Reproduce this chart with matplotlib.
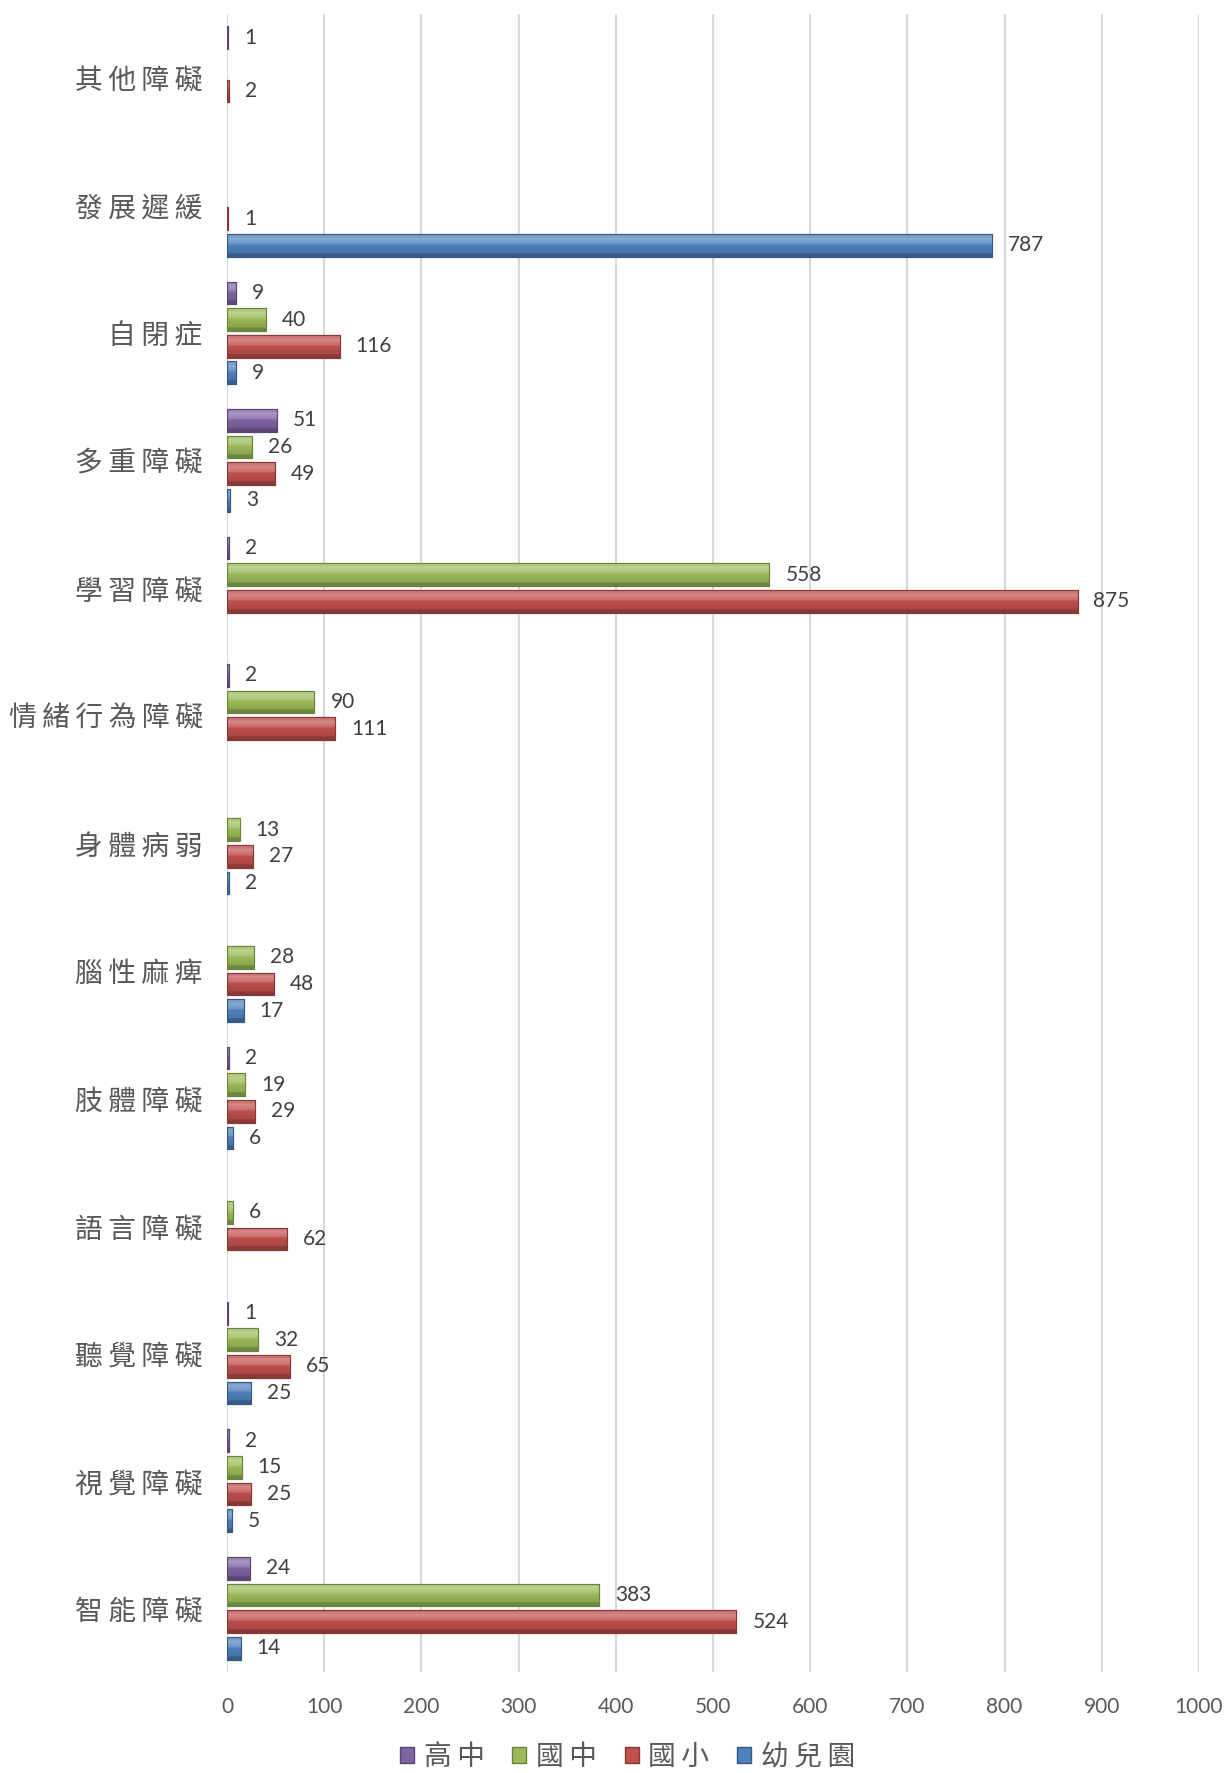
import numpy as np
import matplotlib
matplotlib.use("Agg")
import matplotlib.pyplot as plt
from matplotlib.colors import to_rgb
from matplotlib.patches import Patch

plt.rcParams['font.family'] = ['Lato', 'Noto Sans CJK TC', 'DejaVu Sans']

categories = ['智能障礙', '視覺障礙', '聽覺障礙', '語言障礙', '肢體障礙', '腦性麻痺',
              '身體病弱', '情緒行為障礙', '學習障礙', '多重障礙', '自閉症', '發展遲緩', '其他障礙']
nan = np.nan
senior_high = [24, 2, 1, nan, 2, nan, nan, 2, 2, 51, 9, nan, 1]        # 高中
junior_high = [383, 15, 32, 6, 19, 28, 13, 90, 558, 26, 40, nan, nan]  # 國中
elementary = [524, 25, 65, 62, 29, 48, 27, 111, 875, 49, 116, 1, 2]    # 國小
preschool = [14, 5, 25, nan, 6, 17, 2, nan, nan, 3, 9, 787, nan]       # 幼兒園

series_names = ['高中', '國中', '國小', '幼兒園']
series_values = [senior_high, junior_high, elementary, preschool]
series_colors = ['#8064A2', '#9BBB59', '#C0504D', '#4F81BD']
xticks = [0, 100, 200, 300, 400, 500, 600, 700, 800, 900, 1000]

SP = '\u2009'
def spaced(s):
    return SP.join(list(s))

fig = plt.figure(figsize=(12.27, 17.73), dpi=100)
ax = fig.add_axes([227/1227, 1 - 1672/1773, (1199-227)/1227, (1672-14)/1773])

n = len(categories)
y = np.arange(n)
slot = 0.209
bar_h = 0.178
offsets = [1.5*slot, 0.5*slot, -0.5*slot, -1.5*slot]

def mix(c, t, amt):
    c = np.array(to_rgb(c)); t = np.array(to_rgb(t))
    return c*(1-amt) + t*amt

ax.set_xlim(0, 1000)
ax.set_ylim(-0.5, n - 0.5)

all_patches = []
for vals, col, off in zip(series_values, series_colors, offsets):
    v = np.array(vals, dtype=float)
    mask = ~np.isnan(v)
    bars = ax.barh(y[mask] + off, v[mask], height=bar_h, color=col,
                   edgecolor=mix(col, 'black', 0.3), linewidth=0.8, zorder=3)
    for p, val in zip(bars.patches, v[mask]):
        all_patches.append((p, col))
        ax.annotate(f'{int(val)}', xy=(val, p.get_y() + p.get_height()/2),
                    xytext=(11.5, 0), textcoords='offset points',
                    ha='left', va='center', fontsize=15, color='#404040', zorder=5)

# bevel-like gradient on bars
for p, col in all_patches:
    x0, y0, w, h = p.get_x(), p.get_y(), p.get_width(), p.get_height()
    if w <= 0:
        continue
    stops = np.linspace(0, 1, 64)
    rows = []
    for s in stops:  # s=0 bottom, s=1 top
        if s < 0.15:
            rows.append(mix(col, 'black', 0.28))
        elif s < 0.55:
            rows.append(mix(col, 'black', 0.12 * (0.55 - s) / 0.4))
        elif s < 0.85:
            rows.append(mix(col, 'white', 0.15 + 0.2 * (s - 0.55) / 0.3))
        else:
            rows.append(mix(col, 'white', 0.22))
    img = np.array(rows)[:, None, :]
    im = ax.imshow(img, extent=(x0, x0 + w, y0, y0 + h), origin='lower',
                   aspect='auto', interpolation='bilinear', zorder=4)
    im.set_clip_path(p)
    ax.add_patch(plt.Rectangle((x0, y0), w, h, fill=False,
                               edgecolor=mix(col, 'black', 0.3), linewidth=0.8, zorder=4.5))

ax.set_xlim(0, 1000)
ax.set_ylim(-0.5, n - 0.5)

ax.set_xticks(xticks)
ax.set_xticklabels([str(t) for t in xticks], fontsize=15, color='#595959')
ax.set_yticks(y)
ax.set_yticklabels([spaced(c) for c in categories], fontsize=20, color='#595959',
                   fontfamily=['Noto Sans CJK TC', 'DejaVu Sans'])
ax.tick_params(axis='both', length=0)
ax.tick_params(axis='x', pad=18)
ax.tick_params(axis='y', pad=17.5)
ax.xaxis.grid(True, color='#D9D9D9', linewidth=1.5, zorder=0)
ax.set_axisbelow(True)
for s in ax.spines.values():
    s.set_visible(False)

handles = [Patch(facecolor=c, edgecolor=mix(c, 'black', 0.3)) for c in series_colors]
leg = fig.legend(handles, [spaced(s) for s in series_names], loc='center',
                 bbox_to_anchor=(0.5115, 1 - 1757/1773),
                 ncol=4, frameon=False, handlelength=0.5, handleheight=0.5,
                 handletextpad=0.35, columnspacing=1.0,
                 prop={'family': ['Noto Sans CJK TC', 'DejaVu Sans'], 'size': 20})
for t in leg.get_texts():
    t.set_color('#595959')

fig.savefig('out.png', dpi=100)
